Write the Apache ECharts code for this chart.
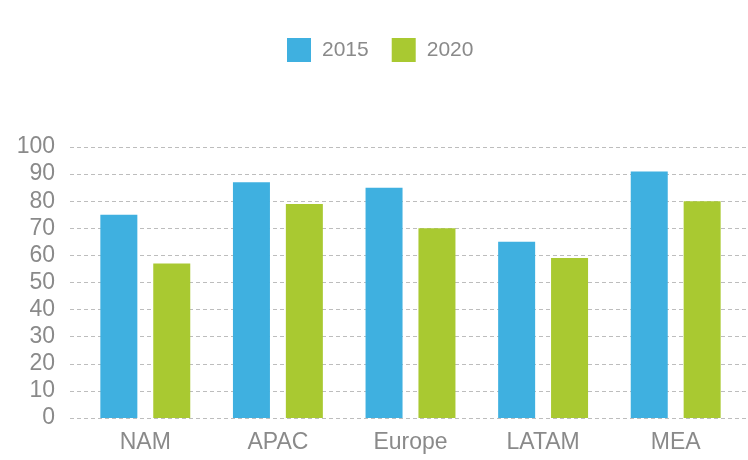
<!DOCTYPE html>
<html>
<head>
<meta charset="utf-8">
<script src="https://cdn.jsdelivr.net/npm/echarts@6/dist/echarts.min.js"></script>
<style>
  html, body { margin: 0; padding: 0; background: #ffffff; }
  #chart { width: 748px; height: 460px; }
</style>
</head>
<body>
<div id="chart"></div>
<script>
// Regional values, two survey years
const regions = ['NAM', 'APAC', 'Europe', 'LATAM', 'MEA'];
const values2015 = [75, 87, 85, 65, 91];
const values2020 = [57, 79, 70, 59, 80];
const seriesNames = ['2015', '2020'];
const yTicks = { min: 0, max: 100, interval: 10 };

const FONT = '"Liberation Sans", Arial, sans-serif';
const TEXT = '#8a8a8a';

const chart = echarts.init(document.getElementById('chart'), null, { renderer: 'canvas' });

chart.setOption({
  backgroundColor: '#ffffff',
  animation: false,
  color: ['#3fb0e0', '#a9c931'],
  legend: {
    data: seriesNames,
    top: 33,
    left: 282,
    itemWidth: 24,
    itemHeight: 24,
    itemGap: 23,
    icon: 'rect',
    textStyle: { color: TEXT, fontSize: 21, fontFamily: FONT, padding: [0, 0, 0, 6] }
  },
  grid: [
    // plot area holding the bars
    { left: 79, right: 6, top: 147, bottom: 42, containLabel: false },
    // wider backdrop carrying the dashed guide lines
    { left: 70, right: 0, top: 147, bottom: 42, containLabel: false, z: 0 }
  ],
  xAxis: [
    {
      type: 'category',
      gridIndex: 0,
      data: regions,
      axisLine: { show: false },
      axisTick: { show: false },
      axisLabel: { color: TEXT, fontSize: 23, fontFamily: FONT, margin: 13 }
    },
    { type: 'value', gridIndex: 1, show: false, min: 0, max: 1 }
  ],
  yAxis: [
    {
      type: 'value',
      gridIndex: 0,
      min: yTicks.min,
      max: yTicks.max,
      interval: yTicks.interval,
      axisLine: { show: false },
      axisTick: { show: false },
      axisLabel: { color: TEXT, fontSize: 23, fontFamily: FONT, margin: 24 },
      splitLine: { show: false }
    },
    {
      type: 'value',
      gridIndex: 1,
      min: yTicks.min,
      max: yTicks.max,
      interval: yTicks.interval,
      z: 0,
      axisLine: { show: false },
      axisTick: { show: false },
      axisLabel: { show: false },
      splitLine: { show: true, lineStyle: { color: '#bdbdbd', type: [4, 3], width: 1 } }
    }
  ],
  series: [
    { name: seriesNames[0], type: 'bar', data: values2015, barWidth: 37, barGap: '43%', z: 2 },
    { name: seriesNames[1], type: 'bar', data: values2020, barWidth: 37, barGap: '43%', z: 2 }
  ]
});
</script>
</body>
</html>
